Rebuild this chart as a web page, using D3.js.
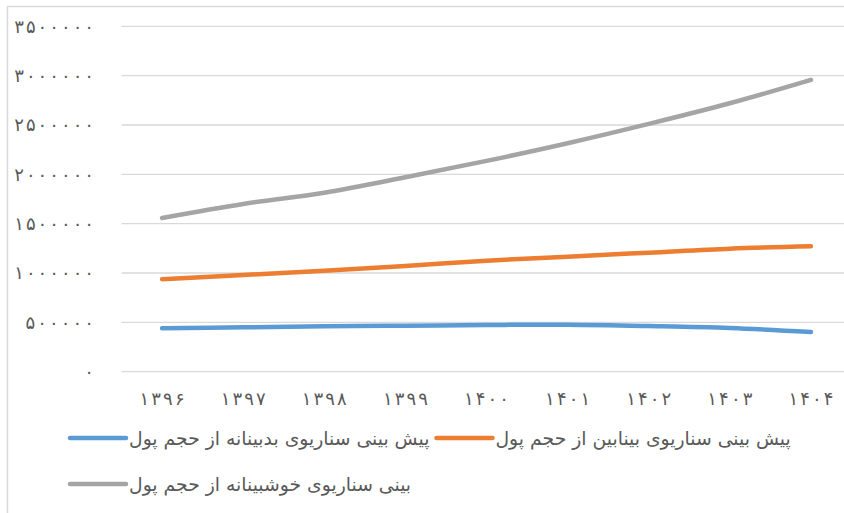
<!DOCTYPE html>
<html>
<head>
<meta charset="utf-8">
<script src="https://d3js.org/d3.v7.min.js"></script>
<style>
  body { margin: 0; background: #fff; }
  text { font-family: "DejaVu Sans", sans-serif; fill: #595959; }
</style>
</head>
<body>
<svg id="chart" width="844" height="513"></svg>
<script>

// years (Persian digits)
var years = ["۱۳۹۶", "۱۳۹۷", "۱۳۹۸", "۱۳۹۹", "۱۴۰۰", "۱۴۰۱", "۱۴۰۲", "۱۴۰۳", "۱۴۰۴"];

// pessimistic, intermediate, optimistic forecasts of money volume
var pessimistic = [440000, 450000, 460000, 466000, 473000, 476000, 463000, 443000, 402000];
var intermediate = [937000, 980000, 1024000, 1071000, 1125000, 1166000, 1206000, 1247000, 1271000];
var optimistic = [1558000, 1700000, 1814000, 1970000, 2136000, 2315000, 2511000, 2720000, 2957000];

var seriesNames = [
  "پیش بینی سناریوی بدبینانه از حجم پول",
  "پیش بینی سناریوی بینابین از حجم پول",
  "بینی سناریوی خوشبینانه از حجم پول"
];
var seriesColors = ["#5b9bd5", "#ed7d31", "#a5a5a5"];

var yTicks = [0, 500000, 1000000, 1500000, 2000000, 2500000, 3000000, 3500000];

var faDigits = "۰۱۲۳۴۵۶۷۸۹";
function toFa(n) {
  return String(n).replace(/\d/g, function(d) { return faDigits[+d]; });
}

var svg = d3.select("#chart");

// chart frame (left and top edges only are visible)
svg.append("line").attr("x1", 7.5).attr("x2", 7.5).attr("y1", 6).attr("y2", 513)
    .attr("stroke", "#d9d9d9").attr("stroke-width", 1.5);
svg.append("line").attr("x1", 7).attr("x2", 844).attr("y1", 6.5).attr("y2", 6.5)
    .attr("stroke", "#d9d9d9").attr("stroke-width", 1.5);

var x = d3.scalePoint().domain(years).range([121.5, 851.5]).padding(0.5);
var y = d3.scaleLinear().domain([0, 3500000]).range([371.7, 26.3]);

// gridlines
svg.append("g")
    .selectAll("line")
    .data(yTicks)
    .enter()
    .append("line")
        .attr("x1", 121.5)
        .attr("x2", 852)
        .attr("y1", function(d) { return y(d); })
        .attr("y2", function(d) { return y(d); })
        .attr("stroke", "#d9d9d9")
        .attr("stroke-width", 1.3);

// y tick labels (Chrome ignores letter-spacing on Arabic digits, so stretch with textLength)
svg.append("g")
    .selectAll("text")
    .data(yTicks)
    .enter()
    .append("text")
        .attr("x", 94)
        .attr("y", function(d) { return y(d); })
        .attr("dy", "0.35em")
        .attr("text-anchor", "end")
        .style("font-size", "18px")
        .attr("textLength", function(d) { var n = String(d).length; return n > 1 ? n * 11.4 : null; })
        .attr("lengthAdjust", "spacing")
        .text(function(d) { return toFa(d); });

// x tick labels
svg.append("g")
    .selectAll("text")
    .data(years)
    .enter()
    .append("text")
        .attr("x", function(d) { return x(d); })
        .attr("y", 399)
        .attr("dy", "0.35em")
        .attr("text-anchor", "middle")
        .style("font-size", "18px")
        .attr("textLength", 45)
        .attr("lengthAdjust", "spacing")
        .text(function(d) { return d; });

var allSeries = [pessimistic, intermediate, optimistic];

var line = d3.line()
    .x(function(d, i) { return x(years[i]); })
    .y(function(d) { return y(d); })
    .curve(d3.curveCatmullRom.alpha(0.5));

svg.append("g")
    .selectAll("path")
    .data(allSeries)
    .enter()
    .append("path")
        .attr("d", function(d) { return line(d); })
        .attr("fill", "none")
        .attr("stroke", function(d, i) { return seriesColors[i]; })
        .attr("stroke-width", 4.5)
        .attr("stroke-linecap", "round")
        .attr("stroke-linejoin", "round");

// legend
var legend = svg.append("g");
var rows = [438, 484];
var lx = 70;

seriesNames.forEach(function(name, i) {
  var ly = i < 2 ? rows[0] : rows[1];
  if (i === 2) lx = 70;
  legend.append("line")
      .attr("x1", lx).attr("x2", lx + 56)
      .attr("y1", ly).attr("y2", ly)
      .attr("stroke", seriesColors[i])
      .attr("stroke-width", 4.5)
      .attr("stroke-linecap", "round");
  var t = legend.append("text")
      .attr("x", lx + 59)
      .attr("y", ly)
      .attr("dy", "0.35em")
      .style("font-size", "18.8px")
      .text(name);
  lx = lx + 59 + t.node().getComputedTextLength() + 7;
});

</script>
</body>
</html>
